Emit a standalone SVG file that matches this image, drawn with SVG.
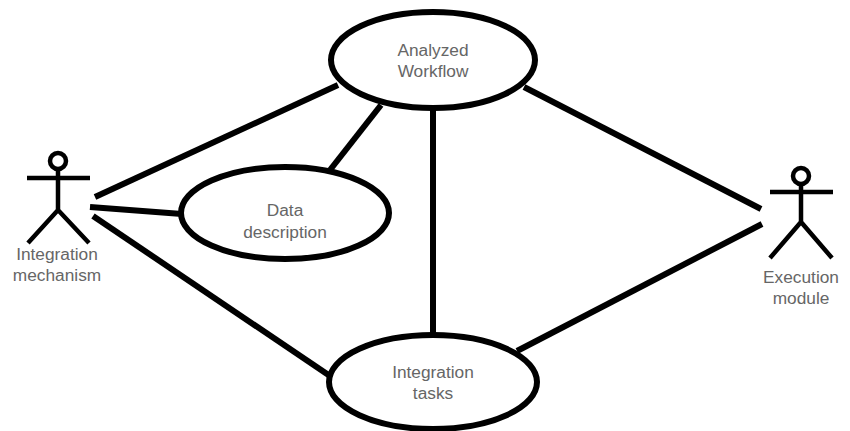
<svg xmlns="http://www.w3.org/2000/svg" width="850" height="431" viewBox="0 0 850 431">
<style>
.l{fill:none;stroke:#000;stroke-width:6}
.a{fill:none;stroke:#000;stroke-width:4.5}
.n{fill:#fff;stroke:#000;stroke-width:6}
text{font-family:"Liberation Sans",Arial,sans-serif;font-size:17.3px;fill:#666;text-anchor:middle}
</style>
<rect width="850" height="431" fill="#fff"/>
<g id="connectors">
<line class="l" x1="95" y1="197" x2="338" y2="85"/>
<line class="l" x1="90" y1="207" x2="182" y2="214"/>
<line class="l" x1="93" y1="216" x2="330" y2="376"/>
<line class="l" x1="330" y1="170" x2="381" y2="105"/>
<line class="l" x1="433" y1="110" x2="433" y2="333"/>
<line class="l" x1="524" y1="87" x2="761" y2="209"/>
<line class="l" x1="517" y1="351" x2="762" y2="224"/>
</g>
<g id="analyzed-workflow">
<ellipse class="n" cx="433" cy="60" rx="102" ry="48"/>
<text x="433" y="56">Analyzed</text>
<text x="433" y="77">Workflow</text>
</g>
<g id="data-description">
<ellipse class="n" cx="285" cy="213" rx="104" ry="46"/>
<text x="285" y="216">Data</text>
<text x="285" y="238">description</text>
</g>
<g id="integration-tasks">
<ellipse class="n" cx="433" cy="382" rx="104" ry="47"/>
<text x="433" y="378">Integration</text>
<text x="433" y="399">tasks</text>
</g>
<g id="integration-mechanism">
<circle class="a" cx="58" cy="161" r="8"/>
<path class="a" d="M27 178H90M58 170V210M28 243L58 210L89 243"/>
<text x="57" y="260">Integration</text>
<text x="57" y="281">mechanism</text>
</g>
<g id="execution-module">
<circle class="a" cx="801" cy="176" r="8"/>
<path class="a" d="M770 192H833M801 185V222M770 258L801 222L832 258"/>
<text x="801" y="283">Execution</text>
<text x="801" y="304">module</text>
</g>
</svg>
